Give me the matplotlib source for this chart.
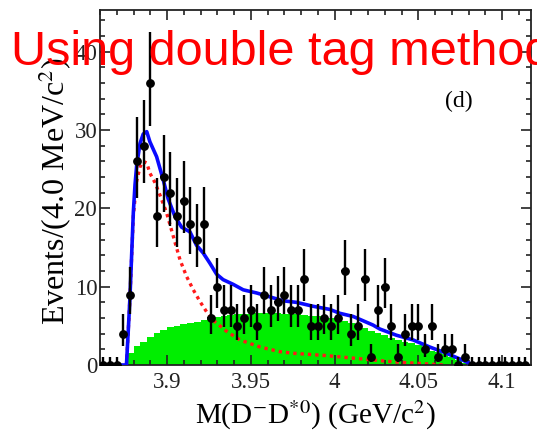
import numpy as np
import matplotlib
matplotlib.use('Agg')
import matplotlib.pyplot as plt
from matplotlib.ticker import MultipleLocator, FixedLocator, FixedFormatter

plt.rcParams['font.family'] = ['Liberation Serif', 'DejaVu Serif']
plt.rcParams['mathtext.fontset'] = 'stix'

# ---- data ----
bin_first_center = 3.862
bin_width = 0.004
counts = [0, 0, 0, 4, 9, 26, 28, 36, 19, 24,
          22, 19, 21, 18, 16, 18, 6, 10, 7, 7,
          5, 6, 7, 5, 9, 7, 8, 9, 7, 7,
          11, 5, 5, 6, 5, 6, 12, 4, 5, 11,
          1, 7, 10, 5, 1, 4, 5, 5, 2, 5,
          1, 2, 2, 0, 1, 0, 0, 0, 0, 0,
          0, 0, 0, 0]

# total fit (blue)
fit_x = [3.8720, 3.8758, 3.8769, 3.8779, 3.8799, 3.8809, 3.8819, 3.8839, 3.8858,
         3.8879, 3.8898, 3.8938, 3.8978, 3.9007, 3.9047, 3.9087, 3.9137, 3.9176,
         3.9216, 3.9256, 3.9296, 3.9335, 3.9395, 3.9455, 3.9535, 3.9614, 3.9693,
         3.9773, 3.9872, 3.9972, 4.0032, 4.0111, 4.0230, 4.0270, 4.0370, 4.0469,
         4.0568, 4.0668, 4.0767, 4.0827, 4.0860]
fit_y = [0.0, 0.0, 4.5, 8.7, 19.5, 23.0, 25.5, 28.3, 29.5,
         29.8, 28.5, 26.6, 23.6, 21.2, 19.0, 17.6, 17.0, 15.3,
         14.3, 13.0, 11.6, 10.9, 10.3, 9.6, 9.2, 8.7, 8.2,
         8.0, 7.5, 7.1, 6.6, 6.2, 5.1, 4.6, 3.8, 3.2,
         2.3, 1.5, 0.6, 0.0, 0.0]

# signal component (red dotted)
sig_x = [3.8758, 3.8769, 3.8779, 3.8799, 3.8819, 3.8839, 3.8858, 3.8879, 3.8898,
         3.8928, 3.8958, 3.8998, 3.9038, 3.9078, 3.9117, 3.9157, 3.9197, 3.9236,
         3.9276, 3.9356, 3.9435, 3.9555, 3.9674, 3.9753, 3.9952, 4.0151, 4.0350,
         4.0549, 4.0650]
sig_y = [0.0, 4.5, 8.7, 19.0, 23.5, 25.3, 26.0, 25.8, 24.5,
         23.3, 21.7, 19.4, 16.4, 13.4, 11.3, 9.6, 8.1, 6.8,
         5.7, 4.3, 3.2, 2.3, 1.7, 1.5, 1.2, 0.8, 0.4,
         0.15, 0.0]

# background histogram (green)
bkg_first_edge = 3.876
bkg_vals = [1.5, 2.4, 3.0, 3.6, 4.1, 4.5, 4.8, 5.0, 5.2, 5.35,
            5.5, 5.7, 5.9, 6.1, 6.25, 6.4, 6.45, 6.5, 6.55, 6.6,
            6.6, 6.6, 6.6, 6.55, 6.5, 6.45, 6.4, 6.3, 6.2, 6.1,
            6.0, 5.8, 5.6, 5.3, 5.0, 4.7, 4.4, 4.1, 3.8, 3.5,
            3.2, 3.0, 2.85, 2.6, 2.2, 1.85, 1.6, 1.35, 1.0, 0.6,
            0.3]

xtick_vals = [3.9, 3.95, 4.0, 4.05, 4.1]
xtick_labels = ['3.9', '3.95', '4', '4.05', '4.1']
ytick_vals = [0, 10, 20, 30, 40]
ytick_labels = ['0', '10', '20', '30', '40']

# ---- figure ----
fig = plt.figure(figsize=(5.37, 4.32), dpi=100)
ax = fig.add_axes([100/537, 1-365/432, 431/537, 355.5/432])

counts_a = np.array(counts, dtype=float)
centers = bin_first_center + bin_width*np.arange(len(counts))
err_hi = 0.5 + np.sqrt(counts_a + 0.25)
err_lo = np.where(counts_a == 0, 0, np.sqrt(counts_a + 0.25) - 0.5)

edges = bkg_first_edge + bin_width*np.arange(len(bkg_vals)+1)
ax.stairs(bkg_vals, edges, fill=True, color='#00ee00', lw=0, zorder=1)
ax.plot(sig_x, sig_y, color='#ff1a1a', lw=2.4, ls=(0, (1, 1.2)), zorder=2)
ax.plot(fit_x, fit_y, color='#0a0aff', lw=2.6, zorder=3)
ax.errorbar(centers, counts_a, yerr=[err_lo, err_hi], xerr=bin_width/2,
            fmt='o', ms=5.3, color='black', ecolor='black', elinewidth=1.7,
            capsize=0, zorder=4)

ax.set_xlim(3.86, 4.1173)
ax.set_ylim(0, 45.4)

ax.xaxis.set_major_locator(FixedLocator(xtick_vals))
ax.xaxis.set_major_formatter(FixedFormatter(xtick_labels))
ax.xaxis.set_minor_locator(MultipleLocator(0.01))
ax.yaxis.set_major_locator(FixedLocator(ytick_vals))
ax.yaxis.set_major_formatter(FixedFormatter(ytick_labels))
ax.yaxis.set_minor_locator(MultipleLocator(2))

ax.tick_params(which='both', direction='in', top=True, right=True,
               colors='#222222', width=1.2)
ax.tick_params(which='major', length=7.2)
ax.tick_params(which='minor', length=3.6)
ax.tick_params(axis='x', labelsize=16.5, pad=5)
ax.tick_params(axis='y', labelsize=16.5, pad=2)
for s in ax.spines.values():
    s.set_linewidth(1.3)
    s.set_color('#222222')

ax.set_xlabel(r'M(D$^{-}$D$^{*0}$) (GeV/c$^{2}$)', fontsize=21)
ax.xaxis.label.set_va('baseline')
ax.xaxis.set_label_coords(0.50, -(424-365)/355.5)
ax.set_ylabel(r'Events/(4.0 MeV/c$^{2}$)', fontsize=23)
ax.yaxis.label.set_va('baseline')
ax.yaxis.set_label_coords((65-100)/431, 0.49)

ax.text(4.074, 33.6, '(d)', ha='center', va='center', fontsize=17)

fig.text(11/537, 1-65/432, 'Using double tag method', color='#ff0000',
         fontsize=35, family='Liberation Sans', va='baseline', ha='left')

fig.savefig('out.png', dpi=100)
